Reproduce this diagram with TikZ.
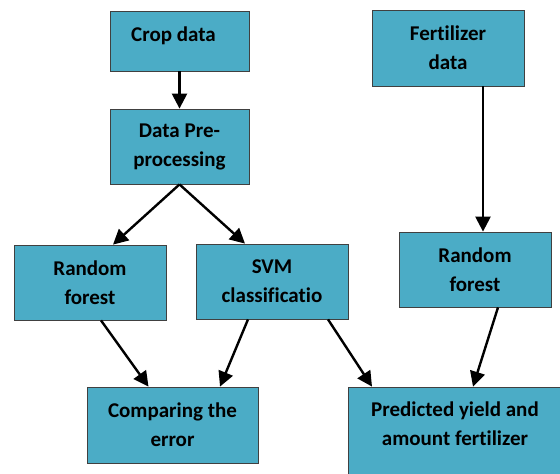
\documentclass[tikz,border=0pt]{standalone}
\usepackage{fontspec}
\setmainfont{Carlito}[Ligatures=CommonOff]
\usepackage{tikz}
\usetikzlibrary{arrows.meta}
\definecolor{boxblue}{RGB}{75,172,198}
\tikzset{>={Triangle[length=15pt,width=15pt]}}

\begin{document}
\begin{tikzpicture}[x=1pt,y=-1pt,
	box/.style={draw=black!75,line width=0.8pt,fill=boxblue,align=center,inner sep=0pt,
		font=\fontsize{21}{29}\selectfont\bfseries},
	flow/.style={->,line width=2.4pt}]
	\useasboundingbox (0,0) rectangle (560,474);
	\clip (0,0) rectangle (560,474);
	\node[box,minimum width=139,minimum height=60,text depth=13pt] (crop) at (179.5,41) {Crop data\hspace*{12pt}};
	\node[box,minimum width=139,minimum height=75] (prep) at (179.5,146.5) {Data Pre-\\processing};
	\node[box,minimum width=152,minimum height=75] (rfa) at (90,282.5) {Random\\forest};
	\node[box,minimum width=152,minimum height=75] (svm) at (272,281.5) {SVM\\classificatio};
	\node[box,minimum width=171,minimum height=76] (cmp) at (172.5,425) {Comparing the\\error};
	\node[box,minimum width=152,minimum height=76] (fert) at (448,48) {Fertilizer\\data};
	\node[box,minimum width=152,minimum height=75] (rfb) at (475,269.5) {Random\\forest};
	\node[box,minimum width=214,minimum height=100,text depth=26pt] (pred) at (455,437) {Predicted yield and\\amount fertilizer};
	\draw[flow] (crop.south) -- (prep.north);
	\draw[flow] (prep.south) -- ([xshift=23pt]rfa.north);
	\draw[flow] (prep.south) -- ([xshift=-27pt]svm.north);
	\draw[flow] ([xshift=11pt]rfa.south) -- ([xshift=-24pt]cmp.north);
	\draw[flow] ([xshift=-24pt]svm.south) -- ([xshift=47.5pt]cmp.north);
	\draw[flow] ([xshift=56pt]svm.south) -- ([xshift=-83pt]pred.north);
	\draw[flow] ([xshift=35pt]fert.south) -- ([xshift=8pt]rfb.north);
	\draw[flow] ([xshift=23pt]rfb.south) -- ([xshift=18pt]pred.north);
\end{tikzpicture}
\end{document}
